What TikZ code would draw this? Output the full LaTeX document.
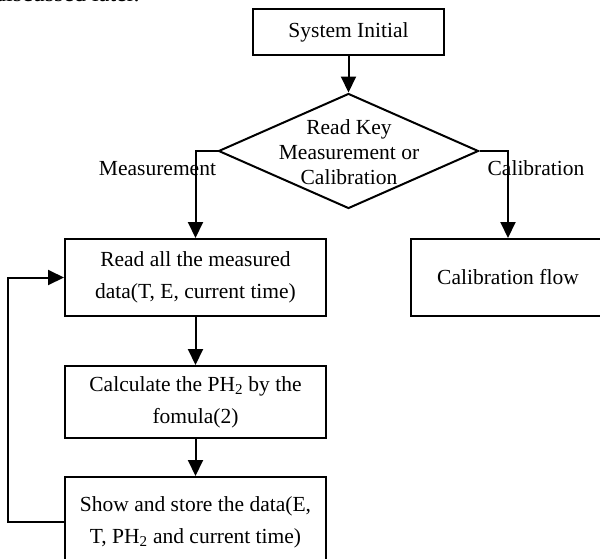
\documentclass[tikz,border=0pt]{standalone}
\usepackage{fontspec}
\setmainfont{Liberation Serif}
\usetikzlibrary{arrows.meta,shapes.geometric}
\tikzset{
  flowbox/.style={draw=black,line width=2pt,rectangle,inner sep=0pt,align=center,
    font=\fontsize{21.5}{32}\selectfont},
  decision/.style={draw=black,line width=2pt,diamond,inner sep=0pt},
  plaintext/.style={inner sep=0pt,align=center,font=\fontsize{21.5}{25}\selectfont},
  arr/.style={line width=2pt,-{Triangle[length=16pt,width=15pt]}},
  conn/.style={line width=2pt}
}
\begin{document}
\begin{tikzpicture}[x=1pt,y=-1pt]
\useasboundingbox (0,0) rectangle (600,558);
\clip (0,0) rectangle (600,558);
\node[inner sep=0pt,anchor=base west,font=\fontsize{24}{28}\selectfont] (prev) at (-6,1.5) {discussed later.};
\node[flowbox,minimum width=191pt,minimum height=46pt] (sys) at (348.5,32) {System Initial};
\node[decision,minimum width=260pt,minimum height=115pt] (dia) at (348.5,151) {};
\node[plaintext] (diatext) at (349,152) {Read Key\\Measurement or\\Calibration};
\node[plaintext,anchor=base] (mlabel) at (157.5,175) {Measurement};
\node[plaintext,anchor=base] (clabel) at (536,175) {Calibration};
\node[flowbox,minimum width=261pt,minimum height=77pt] (read) at (195.5,277.5) {Read all the measured\\data(T, E, current time)};
\node[flowbox,minimum width=261pt,minimum height=72pt] (calc) at (195.5,402) {Calculate the PH\textsubscript{2} by the\\fomula(2)};
\node[flowbox,minimum width=261pt,minimum height=90pt] (show) at (195.5,522) {Show and store the data(E,\\T, PH\textsubscript{2} and current time)};
\node[flowbox,minimum width=194pt,minimum height=77pt] (cal) at (508,277.5) {Calibration flow};
\coordinate (lp) at (8,0);
\draw[arr] (sys.south) -- (dia.north);
\draw[arr] (dia.west) -| (read.north);
\draw[arr] (dia.east) -| (cal.north);
\draw[arr] (read.south) -- (calc.north);
\draw[arr] (calc.south) -- (show.north);
\draw[arr] (show.west) -- (show.west -| lp) |- (read.west);
\end{tikzpicture}
\end{document}
